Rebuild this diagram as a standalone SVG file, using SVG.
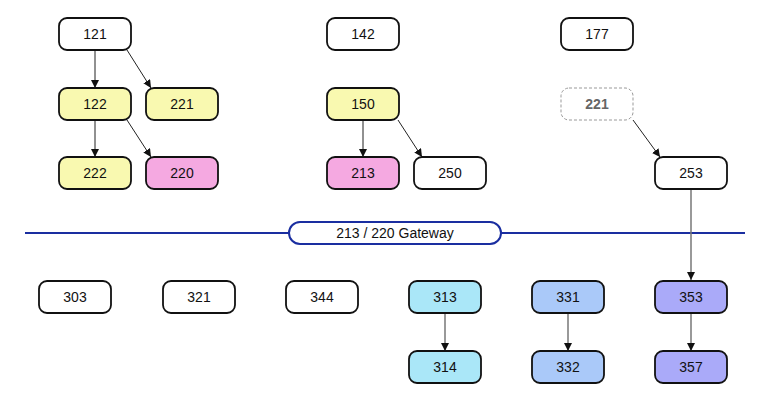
<svg xmlns="http://www.w3.org/2000/svg" width="768" height="400" viewBox="0 0 768 400">
<style>
.n{stroke:#111;stroke-width:1.8;fill:#fff}
.y{fill:#f9f9b0}.p{fill:#f5a9e1}.c{fill:#aae7f8}.b{fill:#aac9f9}.v{fill:#aaaaf9}
.d{fill:#fff;stroke:#999;stroke-width:1;stroke-dasharray:3,2}
text{font-family:"Liberation Sans",Arial,sans-serif;font-size:14px;text-anchor:middle;dominant-baseline:central;fill:#111}
.dt{fill:#666;font-weight:bold}
.e{stroke:#222;stroke-width:1;fill:none;marker-end:url(#a)}
.g{stroke:#777;stroke-width:1.5;fill:none;marker-end:url(#a)}
</style>
<defs>
<marker id="a" viewBox="0 0 10 10" refX="10" refY="5" markerWidth="8" markerHeight="8" markerUnits="userSpaceOnUse" orient="auto"><path d="M0,0L10,5L0,10z" fill="#111"/></marker>
</defs>
<g id="gateway">
<line x1="25" y1="233" x2="745" y2="233" stroke="#1a2ea0" stroke-width="2"/>
<rect x="289" y="222" width="212" height="22" rx="11" fill="#fff" stroke="#1a2ea0" stroke-width="2"/>
<text x="395" y="233">213 / 220 Gateway</text>
</g>
<g id="connectors">
<line class="e" x1="95" y1="50" x2="95" y2="88"/>
<line class="e" x1="127" y1="50" x2="151" y2="88"/>
<line class="e" x1="95" y1="120" x2="95" y2="157"/>
<line class="e" x1="127" y1="120" x2="151" y2="157"/>
<line class="e" x1="363" y1="120" x2="363" y2="157"/>
<line class="e" x1="398" y1="120" x2="422" y2="157"/>
<line class="e" x1="633" y1="120" x2="660" y2="157"/>
<line class="g" x1="691" y1="189" x2="691" y2="280"/>
<line class="g" x1="445" y1="313" x2="445" y2="351"/>
<line class="g" x1="568" y1="313" x2="568" y2="351"/>
<line class="g" x1="691" y1="313" x2="691" y2="351"/>
</g>
<g id="n121"><rect class="n" x="59" y="18" width="72" height="32" rx="8"/><text x="95" y="34">121</text></g>
<g id="n122"><rect class="n y" x="59" y="88" width="72" height="32" rx="8"/><text x="95" y="104">122</text></g>
<g id="n221"><rect class="n y" x="146" y="88" width="72" height="32" rx="8"/><text x="182" y="104">221</text></g>
<g id="n222"><rect class="n y" x="59" y="157" width="72" height="32" rx="8"/><text x="95" y="173">222</text></g>
<g id="n220"><rect class="n p" x="146" y="157" width="72" height="32" rx="8"/><text x="182" y="173">220</text></g>
<g id="n142"><rect class="n" x="327" y="18" width="72" height="32" rx="8"/><text x="363" y="34">142</text></g>
<g id="n150"><rect class="n y" x="327" y="88" width="72" height="32" rx="8"/><text x="363" y="104">150</text></g>
<g id="n213"><rect class="n p" x="327" y="157" width="72" height="32" rx="8"/><text x="363" y="173">213</text></g>
<g id="n250"><rect class="n" x="414" y="157" width="72" height="32" rx="8"/><text x="450" y="173">250</text></g>
<g id="n177"><rect class="n" x="561" y="18" width="72" height="32" rx="8"/><text x="597" y="34">177</text></g>
<g id="n221b"><rect class="d" x="561" y="88" width="72" height="32" rx="8"/><text class="dt" x="597" y="104">221</text></g>
<g id="n253"><rect class="n" x="655" y="157" width="72" height="32" rx="8"/><text x="691" y="173">253</text></g>
<g id="n303"><rect class="n" x="39" y="281" width="72" height="32" rx="8"/><text x="75" y="297">303</text></g>
<g id="n321"><rect class="n" x="163" y="281" width="72" height="32" rx="8"/><text x="199" y="297">321</text></g>
<g id="n344"><rect class="n" x="286" y="281" width="72" height="32" rx="8"/><text x="322" y="297">344</text></g>
<g id="n313"><rect class="n c" x="409" y="281" width="72" height="32" rx="8"/><text x="445" y="297">313</text></g>
<g id="n331"><rect class="n b" x="532" y="281" width="72" height="32" rx="8"/><text x="568" y="297">331</text></g>
<g id="n353"><rect class="n v" x="655" y="281" width="72" height="32" rx="8"/><text x="691" y="297">353</text></g>
<g id="n314"><rect class="n c" x="409" y="351" width="72" height="32" rx="8"/><text x="445" y="367">314</text></g>
<g id="n332"><rect class="n b" x="532" y="351" width="72" height="32" rx="8"/><text x="568" y="367">332</text></g>
<g id="n357"><rect class="n v" x="655" y="351" width="72" height="32" rx="8"/><text x="691" y="367">357</text></g>
</svg>
